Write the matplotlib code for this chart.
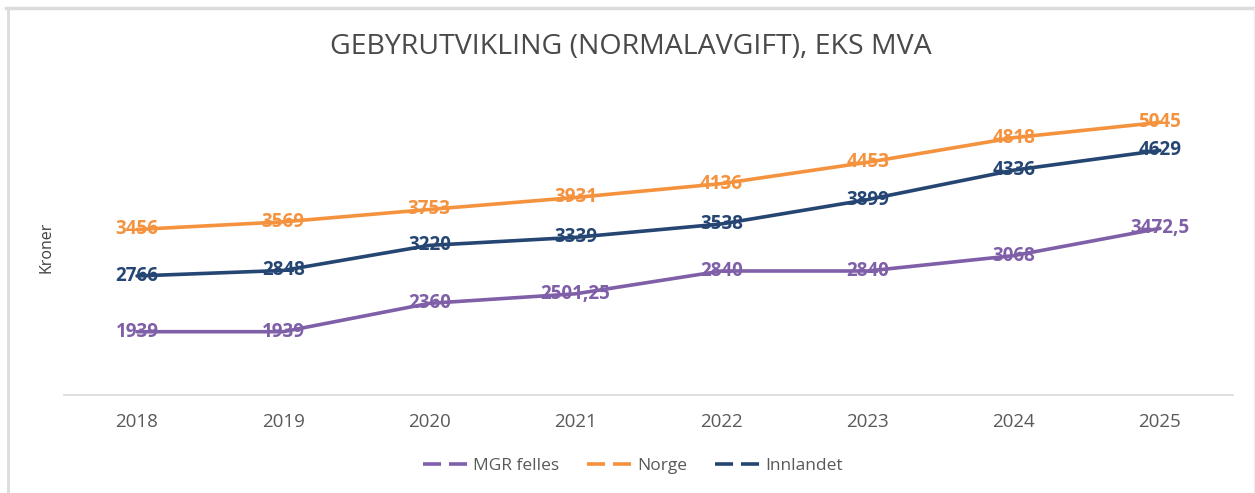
import matplotlib
matplotlib.use("Agg")
import matplotlib.pyplot as plt
from matplotlib.lines import Line2D

years = ["2018", "2019", "2020", "2021", "2022", "2023", "2024", "2025"]
mgr = [1939, 1939, 2360, 2501.25, 2840, 2840, 3068, 3472.5]
norge = [3456, 3569, 3753, 3931, 4136, 4453, 4818, 5045]
innlandet = [2766, 2848, 3220, 3339, 3538, 3899, 4336, 4629]
mgr_labels = ["1939", "1939", "2360", "2501,25", "2840", "2840", "3068", "3472,5"]

series = [
    ("MGR felles", mgr, mgr_labels, "#7F5FA8"),
    ("Norge", norge, [str(v) for v in norge], "#F5923E"),
    ("Innlandet", innlandet, [str(v) for v in innlandet], "#254573"),
]

plt.rcParams['font.family'] = ['Open Sans', 'DejaVu Sans']

W, H = 1255, 493
fig = plt.figure(figsize=(12.55, 4.93), dpi=100)
# frame edges (screenshot border)
fig.add_artist(Line2D([6/W, 1], [1-7.5/H, 1-7.5/H], transform=fig.transFigure,
                      color="#DCDCDC", linewidth=2.5))
fig.add_artist(Line2D([7.5/W, 7.5/W], [0, 1-7.5/H], transform=fig.transFigure,
                      color="#DCDCDC", linewidth=2.0))
fig.add_artist(Line2D([1253.5/W, 1253.5/W], [0, 1-7.5/H], transform=fig.transFigure,
                      color="#F0F0F0", linewidth=1.0))

ax = fig.add_axes([64/W, 1-395/H, (1233-64)/W, (395-58)/H])
x = list(range(len(years)))
for name, vals, labels, color in series:
    ax.plot(x, vals, color=color, linewidth=2.6, label=name, solid_capstyle='round')
    for xi, v, lab in zip(x, vals, labels):
        ax.text(xi, v, lab, color=color, fontsize=13.5, fontweight='bold',
                ha='center', va='center')

ax.set_xlim(-0.5, len(years) - 0.5)
ax.set_ylim(1000, 6000)
ax.set_yticks([])
ax.set_xticks(x)
ax.set_xticklabels(years, fontsize=13.5, color="#595959")
ax.tick_params(axis='x', length=0, pad=13)
for s in ["top", "right", "left"]:
    ax.spines[s].set_visible(False)
ax.spines["bottom"].set_color("#D9D9D9")
ax.spines["bottom"].set_linewidth(1.2)

fig.text(47/W, 1-247/H, "Kroner", rotation=90, fontsize=11.5, color="#404040",
         ha='center', va='center')
fig.text(631/W, 1-47/H, "GEBYRUTVIKLING (NORMALAVGIFT), EKS MVA", fontsize=20.5,
         color="#4A4A4A", ha='center', va='center')

labs = [s[0] for s in series]
hs = [Line2D([0], [0], color=c, linewidth=2.6, linestyle=(0, (5, 2.2)))
      for _, _, _, c in series]
fig.legend(hs, labs, loc='center', bbox_to_anchor=(633/W, 1-466/H), ncol=3,
           frameon=False, fontsize=12.5, labelcolor="#595959", handlelength=2.6,
           columnspacing=1.6, handletextpad=0.3)

fig.savefig("out.png", dpi=100, facecolor="white")
